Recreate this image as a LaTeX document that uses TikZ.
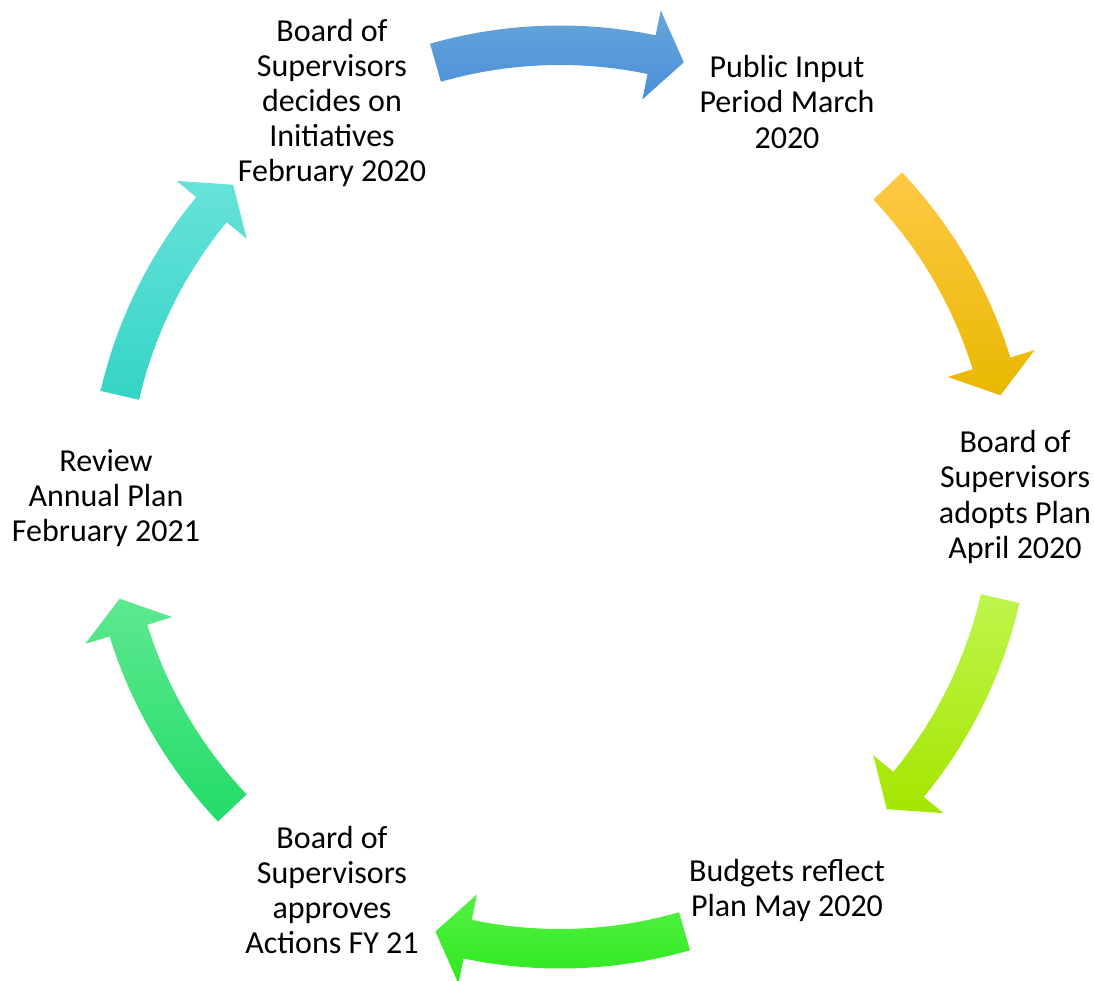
\documentclass[tikz,border=0pt]{standalone}
\usepackage{fontspec}
\setmainfont{Carlito}
\definecolor{aTop}{HTML}{66A6DD}\definecolor{aBot}{HTML}{4A8ED6}
\definecolor{bTop}{HTML}{FFC845}\definecolor{bMid}{HTML}{FFC300}\definecolor{bBot}{HTML}{E8B800}
\definecolor{cTop}{HTML}{BEF54C}\definecolor{cBot}{HTML}{A4E600}
\definecolor{dTop}{HTML}{55F045}\definecolor{dBot}{HTML}{2EE81E}
\definecolor{eTop}{HTML}{5EE890}\definecolor{eBot}{HTML}{22DC68}
\definecolor{fTop}{HTML}{68E2DA}\definecolor{fBot}{HTML}{34D4C6}
\tikzset{
  lbl/.style={align=center,font=\fontsize{24}{26.3}\selectfont,text=black,inner sep=0pt},
}
% #1 tail angle, #2 tip angle, #3 shading options
\newcommand\cycArrow[3]{%
  \pgfmathsetmacro\baseA{#2+4.2}%
  \path[#3,draw=none]
    (#1:471.5) arc[start angle=#1,end angle=\baseA,radius=471.5]
    -- (\baseA:497) -- (#2:452) -- (\baseA:406) -- (\baseA:432)
    arc[start angle=\baseA,end angle=#1,radius=432] -- cycle;}
\begin{document}
\begin{tikzpicture}[x=0.75pt,y=0.75pt]
\useasboundingbox (-560,-483) rectangle (534,497);
\coordinate (c) at (0,0);
\cycArrow{106}{74.1}{top color=aTop,bottom color=aBot}
\cycArrow{43.5}{13}{top color=bTop,middle color=bMid,bottom color=bBot}
\cycArrow{-13}{-43.7}{top color=cTop,bottom color=cBot}
\cycArrow{-74}{-106}{top color=dTop,bottom color=dBot}
\cycArrow{-136.5}{-167}{top color=eTop,bottom color=eBot}
\cycArrow{167}{136.3}{top color=fTop,bottom color=fBot}
\node[lbl] (n1) at (-228,394) {Board of\\Supervisors\\decides on\\Initiatives\\February 2020};
\node[lbl] (n2) at (227,395) {Public Input\\Period March\\2020};
\node[lbl] (n3) at (455,0) {Board of\\Supervisors\\adopts Plan\\April 2020};
\node[lbl] (n4) at (227,-393) {Budgets reflect\\Plan May 2020};
\node[lbl] (n5) at (-228,-393) {Board of\\Supervisors\\approves\\Actions FY 21};
\node[lbl] (n6) at (-454,-1) {Review\\Annual Plan\\February 2021};
\end{tikzpicture}
\end{document}
